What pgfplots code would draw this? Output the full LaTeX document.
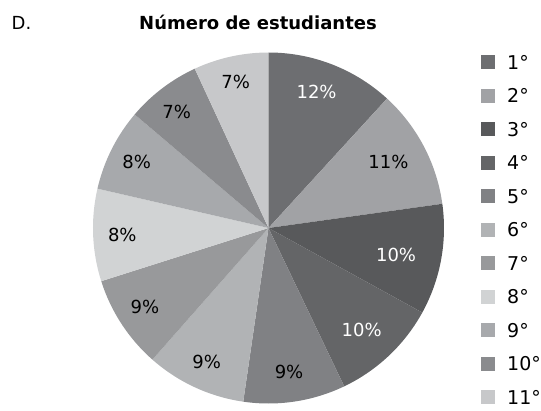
\documentclass[border=0pt]{standalone}
\usepackage{pgfplots}
\pgfplotsset{compat=1.18}
\usepackage{pgfplotstable}
\usepackage{fontspec}
\setmainfont{DejaVu Sans}

\definecolor{c1}{HTML}{6D6E71}
\definecolor{c2}{HTML}{A1A2A5}
\definecolor{c3}{HTML}{58595B}
\definecolor{c4}{HTML}{646567}
\definecolor{c5}{HTML}{808184}
\definecolor{c6}{HTML}{B1B3B5}
\definecolor{c7}{HTML}{98999B}
\definecolor{c8}{HTML}{D1D3D4}
\definecolor{c9}{HTML}{A7A9AC}
\definecolor{c10}{HTML}{8A8B8E}
\definecolor{c11}{HTML}{C7C8CA}

% label positions (x, y in units of the radius) and printed percentages
\pgfplotstableread{
x y lab
0.274 0.777 12
0.727 -0.154 10
0.531 -0.581 10
}\whitelabels
\pgfplotstableread{
x y lab
0.683 0.378 11
0.117 -0.819 9
-0.352 -0.762 9
-0.704 -0.448 9
-0.833 -0.040 8
-0.751 0.378 8
-0.523 0.663 7
-0.187 0.834 7
}\blacklabels

\newcommand\startang{90}
\newcommand\slice[2]{%
  \pgfmathsetmacro\endang{\startang-3.6*#1}%
  \edef\temp{\noexpand\addplot[fill=#2, draw=none, domain=\endang:\startang, samples=70] ({cos(x)},{sin(x)}) -- (axis cs:0,0) -- cycle;}%
  \temp
  \xdef\startang{\endang}%
}

\begin{document}
\begin{tikzpicture}
\useasboundingbox (-268.5pt,-182pt) rectangle (272.5pt,228pt);
\begin{axis}[
  at={(0pt,0pt)}, anchor=center,
  x=175.5pt, y=175.5pt,
  xmin=-1, xmax=1, ymin=-1, ymax=1,
  hide axis, clip=false,
  legend style={at={(1.1055,0.4957)}, anchor=west, draw=none, fill=none,
    inner sep=0pt, row sep=19.5pt, column sep=12pt,
    font=\fontsize{19}{22}\selectfont,
    nodes={inner sep=0pt, text height=14pt, text depth=0pt}},
  legend cell align=left,
  legend image code/.code={\fill[#1] (0pt,-7pt) rectangle (14pt,7pt);},
]
\slice{11.8}{c1}
\slice{11.0}{c2}
\slice{10.2}{c3}
\slice{9.9}{c4}
\slice{9.4}{c5}
\slice{9.2}{c6}
\slice{8.6}{c7}
\slice{8.5}{c8}
\slice{7.6}{c9}
\slice{6.9}{c10}
\slice{6.9}{c11}
\legend{1°,2°,3°,4°,5°,6°,7°,8°,9°,10°,11°}

\addplot[forget plot, only marks, mark=none,
  point meta=explicit symbolic, nodes near coords={\pgfplotspointmeta\%},
  every node near coord/.append style={anchor=center, inner sep=0pt, text=white, font=\fontsize{18}{21}\selectfont}]
  table[x=x, y=y, meta=lab] {\whitelabels};
\addplot[forget plot, only marks, mark=none,
  point meta=explicit symbolic, nodes near coords={\pgfplotspointmeta\%},
  every node near coord/.append style={anchor=center, inner sep=0pt, text=black, font=\fontsize{18}{21}\selectfont}]
  table[x=x, y=y, meta=lab] {\blacklabels};
\end{axis}
\node[anchor=base west, inner sep=0pt, font=\fontsize{18}{21}\selectfont] at (-257pt,198pt) {D.};
\node[anchor=base, inner sep=0pt, font=\fontsize{18}{21}\selectfont\bfseries] at (-10.5pt,198pt) {Número de estudiantes};
\end{tikzpicture}
\end{document}
